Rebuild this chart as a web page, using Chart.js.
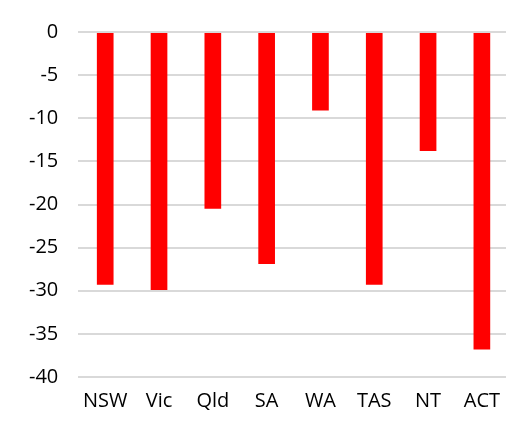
<!DOCTYPE html>
<html>
<head>
<meta charset="utf-8">
<script src="https://cdn.jsdelivr.net/npm/chart.js@4/dist/chart.umd.min.js"></script>
<style>
  html, body { margin: 0; padding: 0; background: #fff; overflow: hidden; }
  #wrap { position: absolute; left: 0; top: 0; width: 512px; height: 425px; }
</style>
</head>
<body>
<div id="wrap"><canvas id="chart" width="512" height="425"></canvas></div>
<script>
// States and territories
var states = ["NSW", "Vic", "Qld", "SA", "WA", "TAS", "NT", "ACT"];

// Change
var change = [-29.3, -29.9, -20.5, -26.9, -9.1, -29.3, -13.8, -36.8];

// Y axis range
var y_min = -40;
var y_max = 0;
var y_step = 5;

var ctx = document.getElementById("chart").getContext("2d");

// canvas is a bit wider than the window, the last category gets cut like in the original
var chart_instance = new Chart(ctx, {
  type: "bar",
  data: {
    labels: states,
    datasets: [{
      data: change,
      backgroundColor: "#ff0000",
      borderWidth: 0,
      barPercentage: 0.31,
      categoryPercentage: 1.0
    }]
  },
  options: {
    responsive: false,
    animation: false,
    layout: { padding: { top: 4, left: 9, right: 0, bottom: 0 } },
    plugins: {
      legend: { display: false },
      tooltip: { enabled: false }
    },
    scales: {
      x: {
        grid: { display: false, drawTicks: false },
        border: { display: false },
        ticks: {
          color: "#000",
          padding: 12,
          font: { family: "Open Sans", size: 20 }
        }
      },
      y: {
        min: y_min,
        max: y_max,
        grid: { color: "#d9d9d9", lineWidth: 2, drawTicks: false },
        border: { display: false },
        ticks: {
          stepSize: y_step,
          color: "#000",
          padding: 20,
          font: { family: "Open Sans", size: 20 }
        }
      }
    }
  }
});
</script>
</body>
</html>
